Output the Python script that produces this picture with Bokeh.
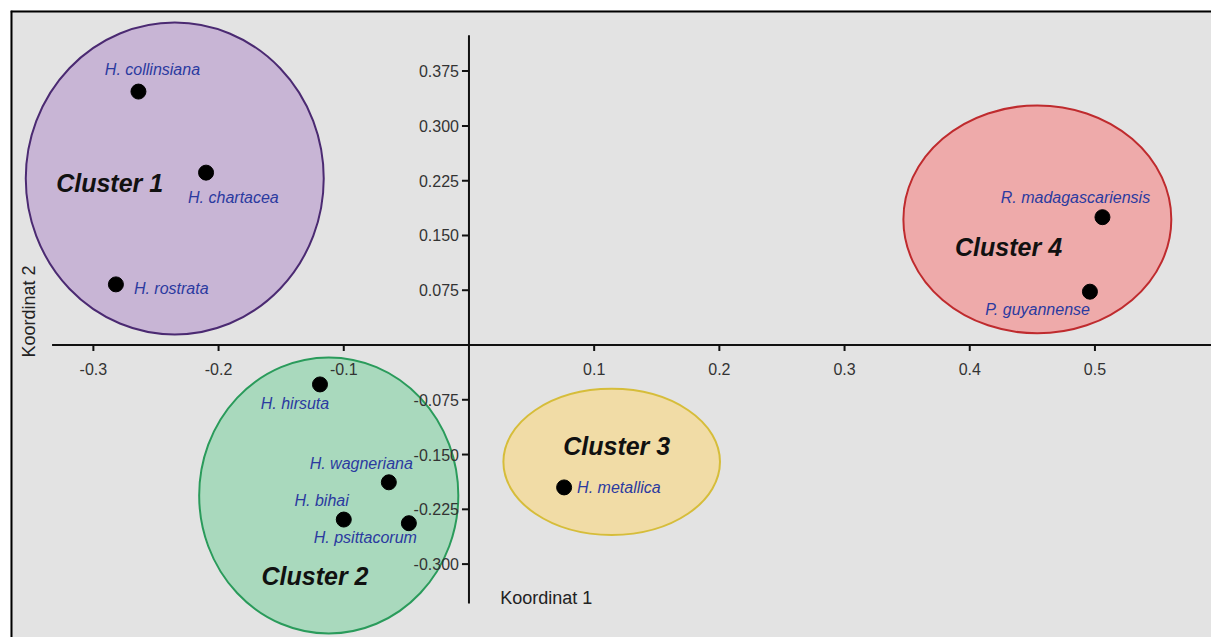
import math
from bokeh.plotting import figure
from bokeh.models import Range1d, ColumnDataSource
from bokeh.core.properties import value
from bokeh.embed import file_html
from bokeh.resources import INLINE

# ---------------- data ----------------
species = ["H. collinsiana", "H. chartacea", "H. rostrata", "H. hirsuta",
           "H. wagneriana", "H. bihai", "H. psittacorum", "H. metallica",
           "R. madagascariensis", "P. guyannense"]
coord1 = [-0.264, -0.210, -0.282, -0.119, -0.064, -0.100, -0.048, 0.076, 0.506, 0.496]
coord2 = [0.347, 0.236, 0.083, -0.054, -0.188, -0.239, -0.244, -0.195, 0.175, 0.073]

cluster_names = ["Cluster 1", "Cluster 2", "Cluster 3", "Cluster 4"]
cluster_cx = [-0.235, -0.112, 0.114, 0.454]
cluster_cy = [0.228, -0.206, -0.160, 0.172]
cluster_w = [0.238, 0.207, 0.173, 0.214]
cluster_h = [0.427, 0.378, 0.200, 0.312]
cluster_label_x = [-0.287, -0.123, 0.118, 0.431]
cluster_label_y = [0.222, -0.316, -0.138, 0.134]

x_ticks = [-0.3, -0.2, -0.1, 0.1, 0.2, 0.3, 0.4, 0.5]
x_tick_labels = ["-0.3", "-0.2", "-0.1", "0.1", "0.2", "0.3", "0.4", "0.5"]
y_ticks = [0.375, 0.300, 0.225, 0.150, 0.075, -0.075, -0.150, -0.225, -0.300]
y_tick_labels = ["0.375", "0.300", "0.225", "0.150", "0.075",
                 "-0.075", "-0.150", "-0.225", "-0.300"]

x_title = "Koordinat 1"
y_title = "Koordinat 2"

# ---------------- styles ----------------
fill_colors = ["#c8b5d5", "#a9d9bd", "#f1dca6", "#eeaaaa"]
line_colors = ["#4b2a72", "#2a9b5b", "#d6bd3a", "#bf2b2e"]
# label placement per species: (align, x offset px, y offset px)
label_place = [("center", 14, -22), ("left", -18, 25), ("left", 18, 4),
               ("center", -25, 19), ("right", 24, -19), ("right", 5, -19),
               ("right", 8, 14), ("left", 13, 0), ("center", -27, -20),
               ("right", 0, 18)]
FONT = "Liberation Sans"

x0, x1 = -0.3662, 0.5931
y0, y1 = -0.4005, 0.4580

p = figure(width=1211, height=637, x_range=Range1d(x0, x1), y_range=Range1d(y0, y1),
           output_backend="svg", toolbar_location=None,
           x_axis_location=None, y_axis_location=None,
           min_border_left=10, min_border_top=10, min_border_right=0, min_border_bottom=0)
p.grid.visible = False
p.background_fill_color = "#e3e3e3"
p.border_fill_color = "white"
p.outline_line_color = None

# frame border only on top and left (the picture is cropped at right/bottom)
p.segment(x0=[x0, x0], y0=[y1, y0], x1=[x1, x0], y1=[y1, y1],
          line_color="black", line_width=4)

# ellipses
p.ellipse(x=cluster_cx, y=cluster_cy, width=cluster_w, height=cluster_h,
          fill_color=fill_colors, line_color=line_colors, line_width=2)

# axes drawn at the origin
axis_col = "#111111"
p.segment(x0=[-0.333], y0=[0], x1=[x1], y1=[0], line_color=axis_col, line_width=2)
p.segment(x0=[0], y0=[-0.354], x1=[0], y1=[0.424], line_color=axis_col, line_width=2)
p.ray(x=x_ticks, y=[0] * len(x_ticks), length=6, length_units="screen",
      angle=-math.pi / 2, line_color=axis_col, line_width=2)
p.ray(x=[0] * len(y_ticks), y=y_ticks, length=7, length_units="screen",
      angle=math.pi, line_color=axis_col, line_width=2)
p.text(x=x_ticks, y=[0] * len(x_ticks), text=x_tick_labels, y_offset=24,
       text_align="center", text_baseline="middle", text_font=value(FONT),
       text_font_size="16px", text_color="#333333")
p.text(x=[0] * len(y_ticks), y=y_ticks, text=y_tick_labels, x_offset=-10,
       text_align="right", text_baseline="middle", text_font=value(FONT),
       text_font_size="16px", text_color="#333333")

# axis titles
p.text(x=[0.025], y=[-0.347], text=[x_title], text_align="left", text_baseline="middle",
       text_font=value(FONT), text_font_size="18px", text_color="#222222")
p.text(x=[-0.3518], y=[0.046], text=[y_title], angle=math.pi / 2, text_align="center",
       text_baseline="middle", text_font=value(FONT), text_font_size="18px",
       text_color="#222222")

# points
p.scatter(x=coord1, y=coord2, size=15, fill_color="black", line_color="black")

# species labels
for align in ("left", "center", "right"):
    idx = [i for i, lp in enumerate(label_place) if lp[0] == align]
    src = ColumnDataSource(dict(
        x=[coord1[i] for i in idx], y=[coord2[i] for i in idx],
        t=[species[i] for i in idx],
        xo=[label_place[i][1] for i in idx], yo=[label_place[i][2] for i in idx]))
    p.text(x="x", y="y", text="t", x_offset="xo", y_offset="yo", source=src,
           text_align=align, text_baseline="middle", text_font=value(FONT),
           text_font_style="italic", text_font_size="16px", text_color="#2b3aa0")

# cluster labels
p.text(x=cluster_label_x, y=cluster_label_y, text=cluster_names,
       text_align="center", text_baseline="middle", text_font=value(FONT),
       text_font_style="bold italic", text_font_size="25px", text_color="#111111")

open("out.html", "w").write(file_html(p, INLINE))
